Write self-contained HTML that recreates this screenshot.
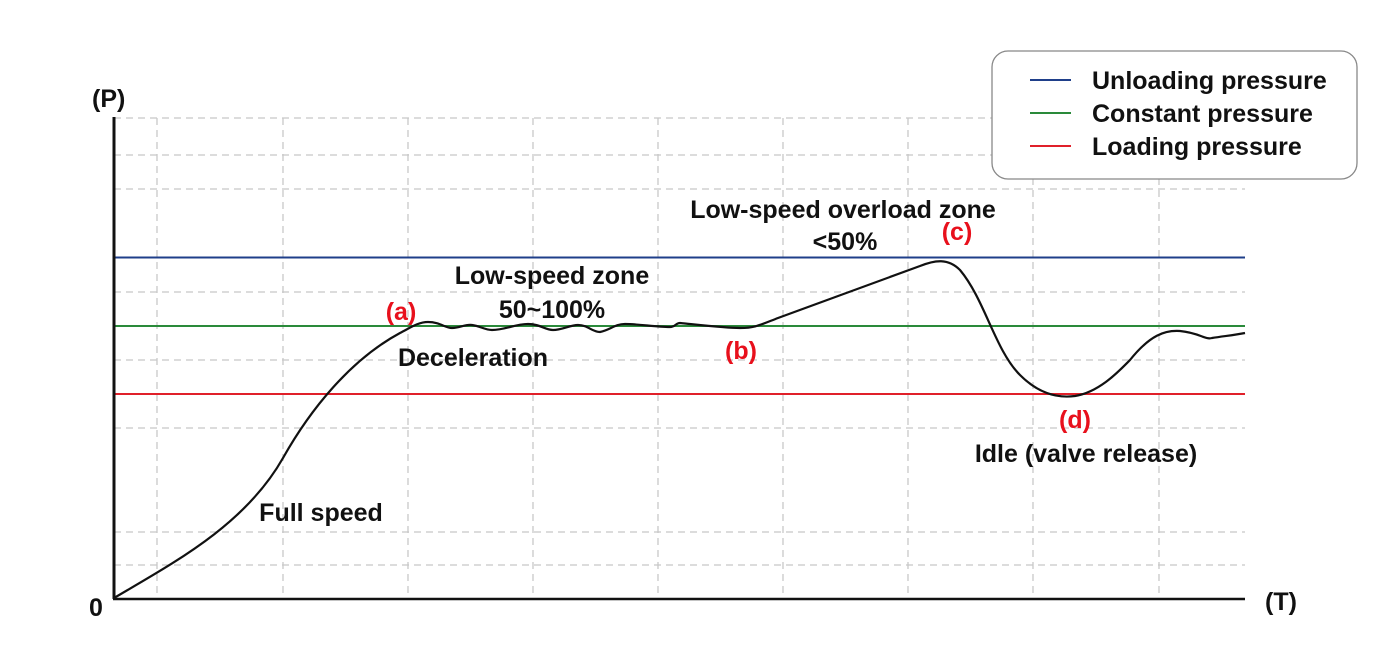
<!DOCTYPE html>
<html><head><meta charset="utf-8"><style>
html,body{margin:0;padding:0;background:#fff;}
svg{display:block;}
text{font-family:"Liberation Sans","Noto Sans CJK JP",sans-serif;font-weight:700;font-size:25px;fill:#111;}
.r{fill:#e8101c;}
</style></head><body>
<svg width="1387" height="663" viewBox="0 0 1387 663" xmlns="http://www.w3.org/2000/svg">
<g stroke="#c8c8c8" stroke-width="1.3" stroke-dasharray="7,5">
<line x1="157" y1="118" x2="157" y2="598"/>
<line x1="283" y1="118" x2="283" y2="598"/>
<line x1="408" y1="118" x2="408" y2="598"/>
<line x1="533" y1="118" x2="533" y2="598"/>
<line x1="658" y1="118" x2="658" y2="598"/>
<line x1="783" y1="118" x2="783" y2="598"/>
<line x1="908" y1="118" x2="908" y2="598"/>
<line x1="1033" y1="118" x2="1033" y2="598"/>
<line x1="1159" y1="118" x2="1159" y2="598"/>
<line x1="114" y1="118" x2="1245" y2="118"/>
<line x1="114" y1="155" x2="1245" y2="155"/>
<line x1="114" y1="189" x2="1245" y2="189"/>
<line x1="114" y1="292" x2="1245" y2="292"/>
<line x1="114" y1="360" x2="1245" y2="360"/>
<line x1="114" y1="428" x2="1245" y2="428"/>
<line x1="114" y1="532" x2="1245" y2="532"/>
<line x1="114" y1="565" x2="1245" y2="565"/>
</g>
<line x1="114" y1="257.5" x2="1245" y2="257.5" stroke="#1f3f8a" stroke-width="2"/>
<line x1="114" y1="326" x2="1245" y2="326" stroke="#2a8a3a" stroke-width="2"/>
<line x1="114" y1="394" x2="1245" y2="394" stroke="#e0202a" stroke-width="2"/>
<line x1="114" y1="117" x2="114" y2="599" stroke="#111" stroke-width="3"/>
<line x1="113" y1="599" x2="1245" y2="599" stroke="#111" stroke-width="2.5"/>
<path d="M114,598 C175,562 245,525 283,458 C310,410 350,360 400,333 C410,328 418,322 428,322 C440,322 445,328 452,328 C460,328 465,324 472,325 C480,326 485,330 492,330 C505,330 515,324 528,324 C540,324 545,330 553,330 C562,330 570,325 578,325 C588,325 592,332 600,332 C610,330 615,324 625,324 C640,324 655,327 670,327 C675,327 676,323 680,323 C700,325 725,328 740,328 C755,328 760,325 778,318 L920,266 C935,260 948,258 960,270 C985,300 995,350 1020,375 C1040,395 1060,398 1075,396 C1100,392 1120,370 1130,360 C1150,335 1165,330 1180,331 C1200,333 1205,340 1212,338 C1225,336 1235,335 1245,333" fill="none" stroke="#111" stroke-width="2.2"/>
<rect x="992" y="51" width="365" height="128" rx="16" fill="#fff" stroke="#888" stroke-width="1.3"/>
<line x1="1030" y1="80" x2="1071" y2="80" stroke="#1f3f8a" stroke-width="2"/>
<line x1="1030" y1="113" x2="1071" y2="113" stroke="#2a8a3a" stroke-width="2"/>
<line x1="1030" y1="146" x2="1071" y2="146" stroke="#e0202a" stroke-width="2"/>
<text x="1092" y="89">Unloading pressure</text>
<text x="1092" y="122">Constant pressure</text>
<text x="1092" y="155">Loading pressure</text>
<text x="92" y="107">(P)</text>
<text x="1265" y="610">(T)</text>
<text x="89" y="616">0</text>
<text x="843" y="218" text-anchor="middle">Low-speed overload zone</text>
<text x="845" y="250" text-anchor="middle">&lt;50%</text>
<text x="552" y="284" text-anchor="middle">Low-speed zone</text>
<text x="552" y="318" text-anchor="middle">50~100%</text>
<text x="473" y="366" text-anchor="middle">Deceleration</text>
<text x="321" y="521" text-anchor="middle">Full speed</text>
<text x="1086" y="462" text-anchor="middle">Idle (valve release)</text>
<text class="r" x="401" y="320" text-anchor="middle">(a)</text>
<text class="r" x="741" y="359" text-anchor="middle">(b)</text>
<text class="r" x="957" y="240" text-anchor="middle">(c)</text>
<text class="r" x="1075" y="428" text-anchor="middle">(d)</text>
</svg>
</body></html>
